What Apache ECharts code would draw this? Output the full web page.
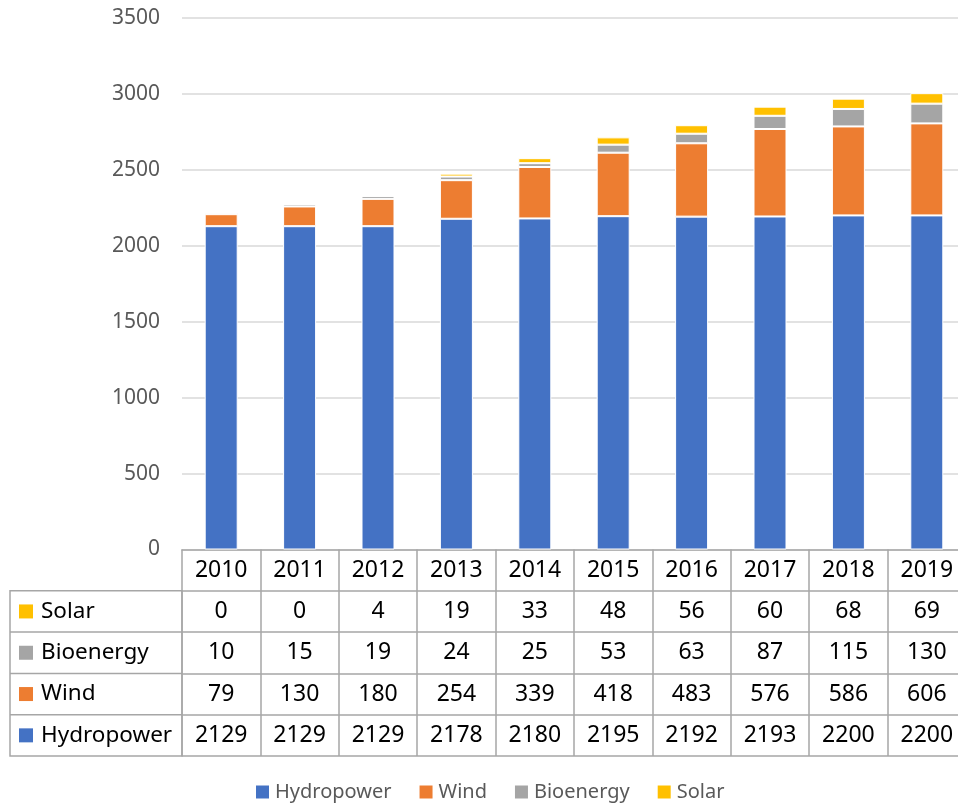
<!DOCTYPE html>
<html>
<head>
<meta charset="utf-8">
<script src="https://cdn.jsdelivr.net/npm/echarts@6/dist/echarts.min.js"></script>
<style>
  html, body { margin: 0; padding: 0; background: #fff; }
  #chart { width: 958px; height: 804px; }
</style>
</head>
<body>
<div id="chart"></div>
<script>
// Renewable generation by source, 2010–2019
const years = ['2010', '2011', '2012', '2013', '2014', '2015', '2016', '2017', '2018', '2019'];
const hydropower = [2129, 2129, 2129, 2178, 2180, 2195, 2192, 2193, 2200, 2200];
const wind = [79, 130, 180, 254, 339, 418, 483, 576, 586, 606];
const bioenergy = [10, 15, 19, 24, 25, 53, 63, 87, 115, 130];
const solar = [0, 0, 4, 19, 33, 48, 56, 60, 68, 69];
const yTicks = { min: 0, max: 3500, step: 500 };

const FONT = '"Noto Sans", "Open Sans", sans-serif';
const LINE = '#a6a6a6';
const colors = { Hydropower: '#4472C4', Wind: '#ED7D31', Bioenergy: '#A5A5A5', Solar: '#FFC000' };

// plot area and data-table geometry
const G = { left: 182, top: 18, width: 784, height: 531.5 };
const ROW_H = 41.3;
const axisY = G.top + G.height;
const tableLeft = 10;

// data-table rows, top to bottom
const tableRows = [
  { name: 'Solar', values: solar },
  { name: 'Bioenergy', values: bioenergy },
  { name: 'Wind', values: wind },
  { name: 'Hydropower', values: hydropower }
];

const labelBase = { interval: 0, color: '#000', fontSize: 23, fontFamily: FONT, margin: ROW_H / 2, verticalAlign: 'middle' };

const xAxes = [{
  type: 'category', data: years, gridIndex: 0, position: 'bottom',
  axisLine: { show: true, lineStyle: { color: LINE, width: 1.5 } },
  axisTick: { show: true, length: ROW_H * 5, lineStyle: { color: LINE, width: 1.5 } },
  axisLabel: labelBase
}];
tableRows.forEach((row, k) => {
  xAxes.push({
    type: 'category', data: years, gridIndex: 0, position: 'bottom', offset: ROW_H * (k + 1),
    axisLine: { show: true, lineStyle: { color: LINE, width: 1.5 } },
    axisTick: { show: false },
    axisLabel: Object.assign({}, labelBase, { formatter: (v, i) => String(row.values[i]) })
  });
});
// closing bottom border of the table
xAxes.push({
  type: 'category', data: years, gridIndex: 0, position: 'bottom', offset: ROW_H * 5,
  axisLine: { show: true, lineStyle: { color: LINE, width: 1.5 } },
  axisTick: { show: false }, axisLabel: { show: false }
});

// row header cells on the left of the table
const graphics = [];
const colTop = axisY + ROW_H;
graphics.push({
  type: 'rect', silent: true,
  shape: { x: tableLeft, y: colTop, width: G.left - tableLeft, height: ROW_H * 4 },
  style: { fill: 'none', stroke: LINE, lineWidth: 1.5 }
});
tableRows.forEach((row, k) => {
  const cy = colTop + ROW_H * (k + 0.5);
  if (k > 0) {
    graphics.push({
      type: 'line', silent: true,
      shape: { x1: tableLeft, y1: colTop + ROW_H * k, x2: G.left, y2: colTop + ROW_H * k },
      style: { stroke: LINE, lineWidth: 1.5 }
    });
  }
  graphics.push({
    type: 'rect', silent: true,
    shape: { x: 19, y: cy - 7, width: 14, height: 14 },
    style: { fill: colors[row.name] }
  });
  graphics.push({
    type: 'text', silent: true, x: 41, y: cy,
    style: { text: row.name, fill: '#000', font: '22.5px ' + FONT, textVerticalAlign: 'middle', textAlign: 'left' }
  });
});

function barSeries(name, values) {
  return {
    name: name, type: 'bar', stack: 'total', data: values, barWidth: 33,
    xAxisIndex: 0, yAxisIndex: 0,
    itemStyle: { color: colors[name], borderColor: '#fff', borderWidth: 1 },
    emphasis: { disabled: true }
  };
}

const chart = echarts.init(document.getElementById('chart'), null, { renderer: 'canvas' });
chart.setOption({
  animation: false,
  backgroundColor: '#fff',
  textStyle: { fontFamily: FONT },
  grid: Object.assign({ containLabel: false, outerBoundsMode: 'none' }, G),
  legend: {
    left: 249, top: 777,
    itemWidth: 15, itemHeight: 15, itemGap: 26, icon: 'rect',
    textStyle: { color: '#595959', fontSize: 20, fontFamily: FONT },
    data: ['Hydropower', 'Wind', 'Bioenergy', 'Solar']
  },
  xAxis: xAxes,
  yAxis: {
    type: 'value', min: yTicks.min, max: yTicks.max, interval: yTicks.step,
    axisLine: { show: false }, axisTick: { show: false },
    axisLabel: { color: '#595959', fontSize: 21, fontFamily: FONT, margin: 22, formatter: v => String(v) },
    splitLine: { show: true, lineStyle: { color: '#d9d9d9', width: 1.5 } }
  },
  graphic: graphics,
  series: [
    barSeries('Hydropower', hydropower),
    barSeries('Wind', wind),
    barSeries('Bioenergy', bioenergy),
    barSeries('Solar', solar)
  ]
});
</script>
</body>
</html>
